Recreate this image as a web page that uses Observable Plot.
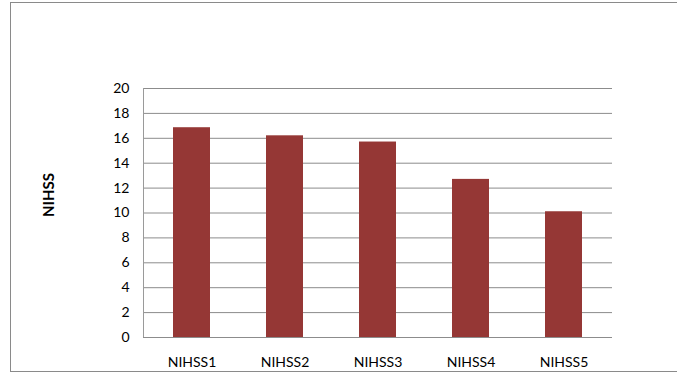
<!DOCTYPE html>
<html>
<head>
<meta charset="utf-8">
<script src="https://cdn.jsdelivr.net/npm/d3@7"></script>
<script src="https://cdn.jsdelivr.net/npm/@observablehq/plot@0.6"></script>
<style>
  html, body { margin: 0; padding: 0; background: #fff; }
  #wrap { position: relative; width: 677px; height: 374px; overflow: hidden; }
  #frame { position: absolute; left: 10px; top: 2px; width: 700px; height: 368px;
           border-top: 1.5px solid #8a8a8a; border-left: 1.5px solid #8a8a8a; border-bottom: 1.5px solid #8a8a8a; }
  #chart { position: absolute; left: 0; top: 0; }
</style>
</head>
<body>
<div id="wrap"><div id="frame"></div><div id="chart"></div></div>
<script>
const categories = ["NIHSS1", "NIHSS2", "NIHSS3", "NIHSS4", "NIHSS5"];
const values = [16.85, 16.2, 15.7, 12.7, 10.1];
const yTicks = [0, 2, 4, 6, 8, 10, 12, 14, 16, 18, 20];
const yLabel = "NIHSS";

const data = categories.map((c, i) => ({category: c, value: values[i]}));

const plot = Plot.plot({
  width: 677,
  height: 374,
  marginLeft: 143,
  marginRight: 65,
  marginTop: 88,
  marginBottom: 37,
  style: {fontFamily: "Lato, 'Open Sans', sans-serif", fontSize: "14px", color: "#000", background: "transparent"},
  x: {domain: categories, paddingInner: 0.6, paddingOuter: 0.3, label: null},
  y: {domain: [0, 20], label: null},
  marks: [
    Plot.gridY(yTicks, {stroke: "#8c8c8c", strokeOpacity: 1, strokeWidth: 1}),
    Plot.frame({anchor: "left", stroke: "#9a9a9a"}),
    Plot.barY(data, {x: "category", y: "value", fill: "#953735"}),
    Plot.ruleY([0], {stroke: "#8c8c8c"}),
    Plot.axisY(yTicks, {tickSize: 0, tickPadding: 14, fontSize: 14, tickFormat: d => String(d)}),
    Plot.axisX({tickSize: 0, tickPadding: 20, fontSize: 14})
  ]
});
document.getElementById("chart").appendChild(plot);

d3.select(plot).append("text")
  .attr("transform", "translate(54,195) rotate(-90)")
  .attr("text-anchor", "middle")
  .attr("font-family", "Lato, 'Open Sans', sans-serif")
  .attr("font-weight", "bold")
  .attr("font-size", 15)
  .attr("fill", "#000")
  .text(yLabel);
</script>
</body>
</html>
